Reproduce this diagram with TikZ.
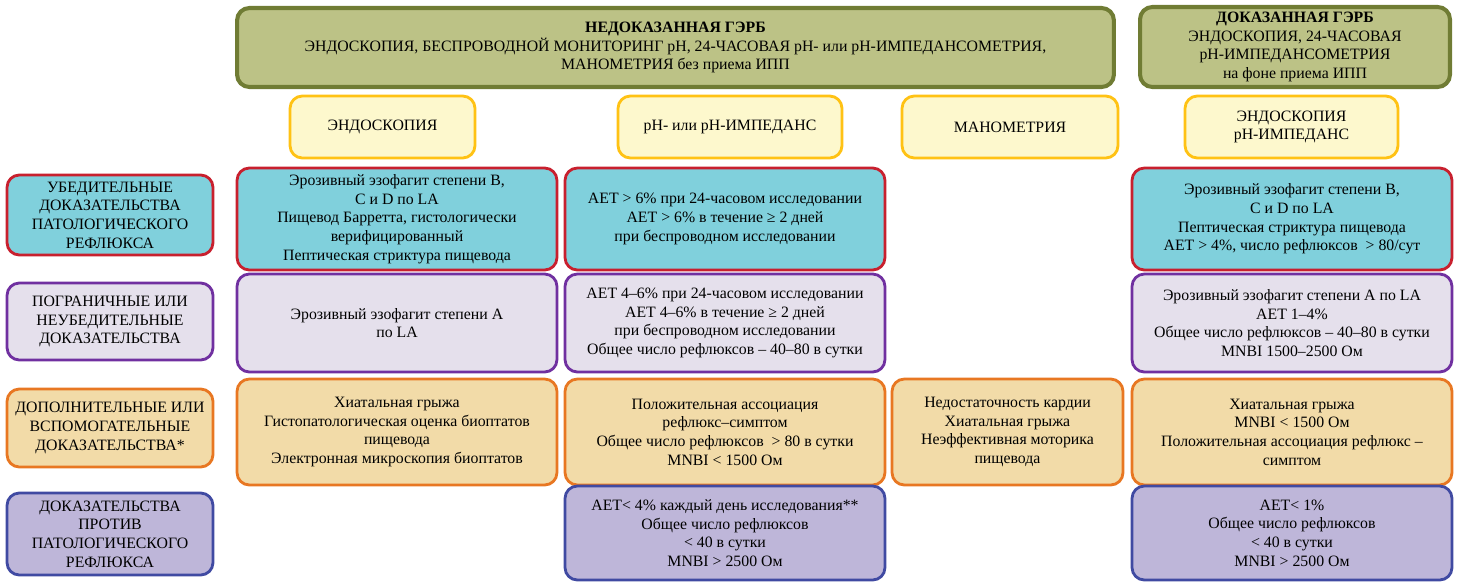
\documentclass[tikz,border=0pt]{standalone}
\usepackage{fontspec}
\setmainfont{Liberation Serif}
\usepackage{tikz}
\definecolor{olivefill}{RGB}{188,194,134}
\definecolor{oliveline}{RGB}{112,124,52}
\definecolor{methfill}{RGB}{253,248,205}
\definecolor{methline}{RGB}{255,194,20}
\definecolor{strongfill}{RGB}{128,208,220}
\definecolor{strongline}{RGB}{200,32,46}
\definecolor{borderfill}{RGB}{229,224,236}
\definecolor{borderline}{RGB}{112,48,160}
\definecolor{addfill}{RGB}{242,219,168}
\definecolor{addline}{RGB}{232,119,34}
\definecolor{againstfill}{RGB}{190,182,217}
\definecolor{againstline}{RGB}{64,74,162}
\tikzset{
  cell/.style = {align=center, inner sep=2pt, rounded corners=7pt,
    line width=1.6pt, font=\fontsize{9}{10.6}\selectfont},
  hdr/.style = {cell, draw=oliveline, fill=olivefill, line width=2.3pt},% header (green)
  meth/.style = {cell, draw=methline, fill=methfill},% method (yellow)
  strong/.style = {cell, draw=strongline, fill=strongfill},% convincing
  bord/.style = {cell, draw=borderline, fill=borderfill},% borderline
  addit/.style = {cell, draw=addline, fill=addfill},% supporting
  against/.style = {cell, draw=againstline, fill=againstfill}% against
}
\begin{document}
\begin{tikzpicture}[x=0.02cm,y=-0.02cm]
\useasboundingbox (0,0) rectangle (1458,582);
% headers
\node [hdr, minimum width=17.54cm, minimum height=1.58cm] (hdrA) at (675.5,47.5)
  {\textbf{НЕДОКАЗАННАЯ ГЭРБ}\\ЭНДОСКОПИЯ, БЕСПРОВОДНОЙ МОНИТОРИНГ pH, 24-ЧАСОВАЯ pH- или pH-ИМПЕДАНСОМЕТРИЯ,\\МАНОМЕТРИЯ без приема ИПП};
\node [hdr, minimum width=6.2cm, minimum height=1.6cm] (hdrB) at (1295,47)
  {\textbf{ДОКАЗАННАЯ ГЭРБ}\\ЭНДОСКОПИЯ, 24-ЧАСОВАЯ\\pH-ИМПЕДАНСОМЕТРИЯ\\на фоне приема ИПП};
% methods
\node [meth, minimum width=3.7cm, minimum height=1.24cm] (mEndo) at (382.5,127) {ЭНДОСКОПИЯ};
\node [meth, minimum width=4.48cm, minimum height=1.24cm] (mPH) at (730,127) {pH- или pH-ИМПЕДАНС};
\node [meth, minimum width=4.32cm, minimum height=1.24cm] (mMano) at (1010,127) {МАНОМЕТРИЯ};
\node [meth, minimum width=4.26cm, minimum height=1.24cm] (mProv) at (1291.5,127) {ЭНДОСКОПИЯ\\pH-ИМПЕДАНС};
% row labels
\node [strong, minimum width=4.12cm, minimum height=1.6cm] (lStrong) at (110,215)
  {УБЕДИТЕЛЬНЫЕ\\ДОКАЗАТЕЛЬСТВА\\ПАТОЛОГИЧЕСКОГО\\РЕФЛЮКСА};
\node [bord, minimum width=4.12cm, minimum height=1.54cm] (lBord) at (110,321.5)
  {ПОГРАНИЧНЫЕ ИЛИ\\НЕУБЕДИТЕЛЬНЫЕ\\ДОКАЗАТЕЛЬСТВА};
\node [addit, minimum width=4.12cm, minimum height=1.56cm] (lAdd) at (110,428)
  {ДОПОЛНИТЕЛЬНЫЕ ИЛИ\\ВСПОМОГАТЕЛЬНЫЕ\\ДОКАЗАТЕЛЬСТВА*};
\node [against, minimum width=4.12cm, minimum height=1.64cm] (lAgainst) at (110,534)
  {ДОКАЗАТЕЛЬСТВА\\ПРОТИВ\\ПАТОЛОГИЧЕСКОГО\\РЕФЛЮКСА};
% convincing
\node [strong, minimum width=6.4cm, minimum height=2.04cm] (endoStrong) at (397,219)
  {Эрозивный эзофагит степени B,\\C и D по LA\\Пищевод Барретта, гистологически\\верифицированный\\Пептическая стриктура пищевода};
\node [strong, minimum width=6.4cm, minimum height=2.04cm] (phStrong) at (725,219)
  {АЕТ > 6\% при 24-часовом исследовании\\АЕТ > 6\% в течение ≥ 2 дней\\при беспроводном исследовании};
\node [strong, minimum width=6.4cm, minimum height=2.04cm] (provStrong) at (1292,219)
  {Эрозивный эзофагит степени B,\\C и D по LA\\Пептическая стриктура пищевода\\АЕТ > 4\%, число рефлюксов ~> 80/сут};
% borderline
\node [bord, minimum width=6.4cm, minimum height=1.96cm] (endoBord) at (397,323)
  {Эрозивный эзофагит степени А\\по LA};
\node [bord, minimum width=6.4cm, minimum height=1.96cm] (phBord) at (725,323)
  {АЕТ 4–6\% при 24-часовом исследовании\\АЕТ 4–6\% в течение ≥ 2 дней\\при беспроводном исследовании\\Общее число рефлюксов – 40–80 в сутки};
\node [bord, minimum width=6.4cm, minimum height=1.96cm] (provBord) at (1292,323)
  {Эрозивный эзофагит степени А по LA\\АЕТ 1–4\%\\Общее число рефлюксов – 40–80 в сутки\\MNBI 1500–2500 Ом};
% supporting
\node [addit, minimum width=6.4cm, minimum height=2.12cm] (endoAdd) at (397,432)
  {Хиатальная грыжа\\Гистопатологическая оценка биоптатов\\пищевода\\Электронная микроскопия биоптатов};
\node [addit, minimum width=6.4cm, minimum height=2.12cm] (phAdd) at (725,432)
  {Положительная ассоциация\\рефлюкс–симптом\\Общее число рефлюксов ~> 80 в сутки\\MNBI < 1500 Ом};
\node [addit, minimum width=4.62cm, minimum height=2.12cm] (manoAdd) at (1007.5,432)
  {Недостаточность кардии\\Хиатальная грыжа\\Неэффективная моторика\\пищевода};
\node [addit, minimum width=6.4cm, minimum height=2.12cm] (provAdd) at (1292,432)
  {Хиатальная грыжа\\MNBI < 1500 Ом\\Положительная ассоциация рефлюкс –\\симптом};
% against
\node [against, minimum width=6.4cm, minimum height=1.88cm] (phAgainst) at (725,533)
  {АЕТ< 4\% каждый день исследования**\\Общее число рефлюксов\\< 40 в сутки\\MNBI > 2500 Ом};
\node [against, minimum width=6.4cm, minimum height=1.88cm] (provAgainst) at (1292,533)
  {АЕТ< 1\%\\Общее число рефлюксов\\< 40 в сутки\\MNBI > 2500 Ом};
\end{tikzpicture}
\end{document}
